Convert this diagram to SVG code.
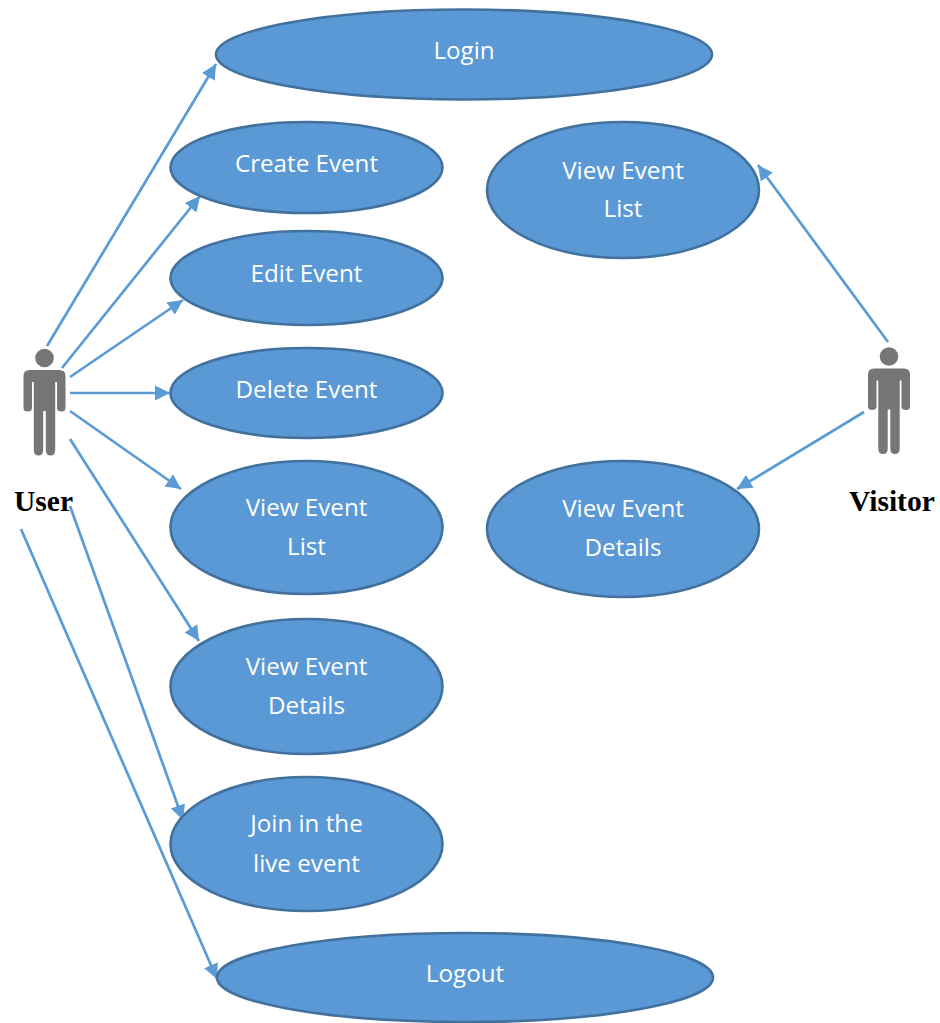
<svg xmlns="http://www.w3.org/2000/svg" width="940" height="1023" viewBox="0 0 940 1023">
<style>
.uc{fill:#5a99d5;stroke:#41719c;stroke-width:2.6}
.t{font-family:"Open Sans","Noto Sans",sans-serif;font-size:24.2px;fill:#fff;text-anchor:middle}
.a{font-family:"Liberation Serif","Times New Roman",serif;font-weight:bold;font-size:29.5px;fill:#000}
.c{stroke:#5b9bd5;stroke-width:2.7;fill:none;marker-end:url(#arr)}
.p{fill:#767676}
</style>
<defs>
<marker id="arr" markerUnits="userSpaceOnUse" markerWidth="17" markerHeight="17" refX="15" refY="8" orient="auto"><path d="M0 0.500 L15 8 L0 15.500 Z" fill="#5b9bd5"/></marker>
<g id="person"><circle cx="0" cy="0" r="9.300"/><path d="M-15 12 H15 Q21 12 21 18 V50 Q21 53.500 17 53.500 Q12.500 53.500 12.500 50 V24 H10.700 V92 Q10.700 97.500 6 97.500 Q1.300 97.500 1.300 92 V53 H-1.300 V92 Q-1.300 97.500 -6 97.500 Q-10.700 97.500 -10.700 92 V24 H-12.500 V50 Q-12.500 53.500 -17 53.500 Q-21 53.500 -21 50 V18 Q-21 12 -15 12 Z"/></g>
</defs>
<rect width="940" height="1023" fill="#fff"/>
<g id="connectors">
<line class="c" x1="47" y1="346" x2="216" y2="64"/>
<line class="c" x1="62" y1="368" x2="200" y2="196"/>
<line class="c" x1="70" y1="377" x2="183" y2="300"/>
<line class="c" x1="70" y1="393" x2="170" y2="393"/>
<line class="c" x1="70" y1="411" x2="181" y2="489"/>
<line class="c" x1="70" y1="439" x2="199" y2="641"/>
<line class="c" x1="70" y1="506" x2="183" y2="820"/>
<line class="c" x1="21" y1="529" x2="217" y2="979"/>
<line class="c" x1="888" y1="342" x2="758" y2="165"/>
<line class="c" x1="864" y1="412" x2="737" y2="489"/>
</g>
<g id="user"><use href="#person" class="p" x="44.500" y="358"/><text class="a" x="14" y="511">User</text></g>
<g id="visitor"><use href="#person" class="p" x="889" y="356.500"/><text class="a" x="849" y="511">Visitor</text></g>
<g id="login"><ellipse class="uc" cx="464" cy="54.500" rx="248" ry="45"/><text class="t" x="464" y="59">Login</text></g>
<g id="create-event"><ellipse class="uc" cx="306.500" cy="167.500" rx="136" ry="45.500"/><text class="t" x="306.500" y="172">Create Event</text></g>
<g id="edit-event"><ellipse class="uc" cx="306.500" cy="278" rx="136" ry="47"/><text class="t" x="306.500" y="282">Edit Event</text></g>
<g id="delete-event"><ellipse class="uc" cx="306.500" cy="393" rx="136" ry="45"/><text class="t" x="306.500" y="398">Delete Event</text></g>
<g id="view-list-user"><ellipse class="uc" cx="306.500" cy="527.500" rx="136" ry="66.500"/><text class="t" x="306.500" y="516">View Event</text><text class="t" x="306.500" y="555">List</text></g>
<g id="view-details-user"><ellipse class="uc" cx="306.500" cy="686.500" rx="136" ry="67.500"/><text class="t" x="306.500" y="675">View Event</text><text class="t" x="306.500" y="714">Details</text></g>
<g id="join-live"><ellipse class="uc" cx="306.500" cy="844" rx="136" ry="67"/><text class="t" x="306.500" y="832">Join in the</text><text class="t" x="306.500" y="872">live event</text></g>
<g id="logout"><ellipse class="uc" cx="465" cy="977.500" rx="248" ry="44.500"/><text class="t" x="465" y="982">Logout</text></g>
<g id="view-list-visitor"><ellipse class="uc" cx="623" cy="190" rx="136" ry="68"/><text class="t" x="623" y="179">View Event</text><text class="t" x="623" y="217">List</text></g>
<g id="view-details-visitor"><ellipse class="uc" cx="623" cy="529" rx="136" ry="68"/><text class="t" x="623" y="517">View Event</text><text class="t" x="623" y="556">Details</text></g>
</svg>
